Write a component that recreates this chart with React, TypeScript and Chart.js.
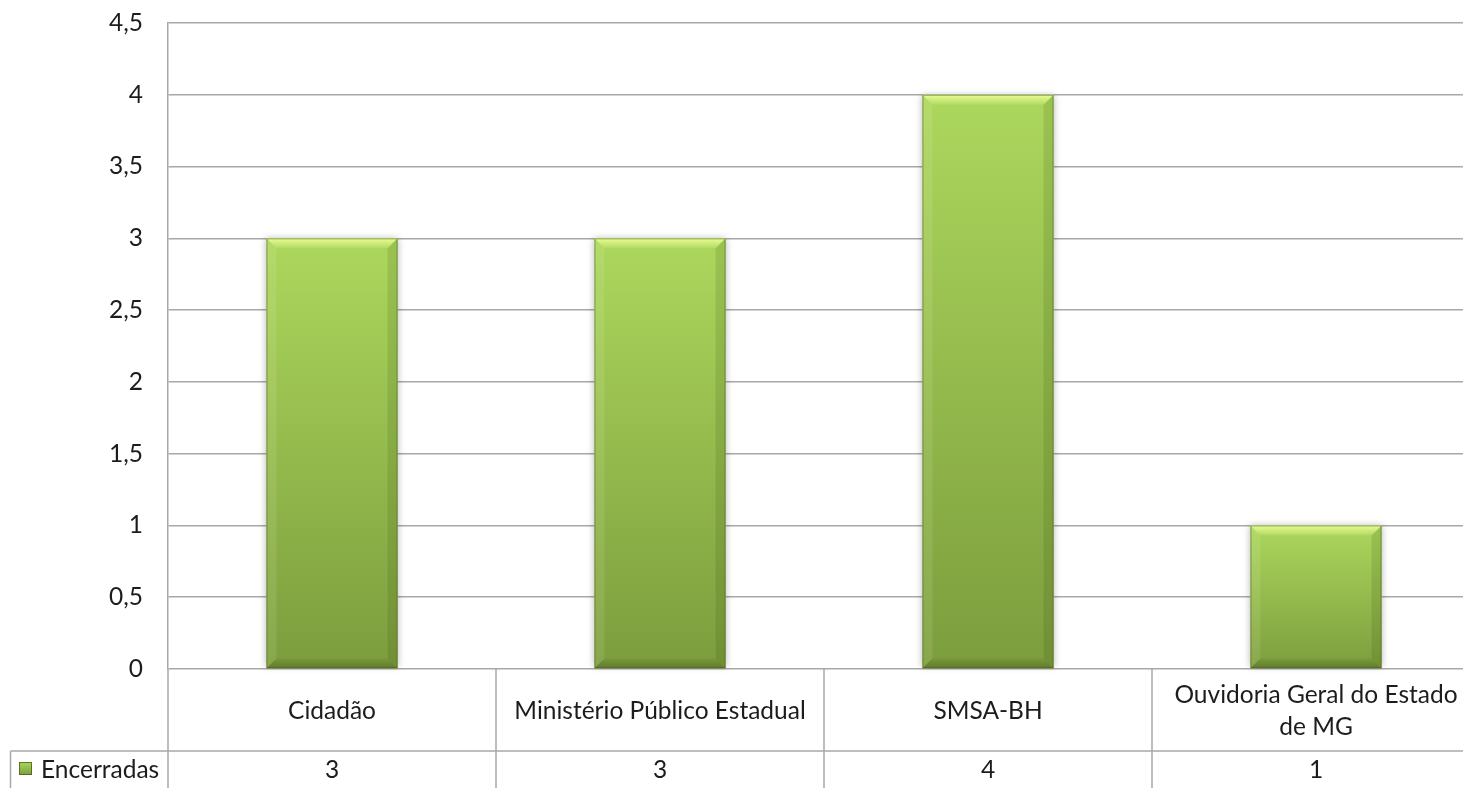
import React, { useEffect, useRef } from 'react';
import { Chart, registerables } from 'chart.js';

Chart.register(...registerables);

// ---- data ----
const categories: string[][] = [
  ['Cidadão'],
  ['Ministério Público Estadual'],
  ['SMSA-BH'],
  ['Ouvidoria Geral do Estado', 'de MG'],
];
const seriesName = 'Encerradas';
const encerradas: number[] = [3, 3, 4, 1];
const yMin = 0;
const yMax = 4.5;
const yStep = 0.5;

// ---- style ----
const FONT_FAMILY = 'Lato, "Open Sans", sans-serif';
const FONT_SIZE = 24.5;
const TEXT_COLOR = '#1c1c1c';
const GRID_COLOR = '#a8a8a8';
const BAR_TOP = '#acd75d';
const BAR_BOTTOM = '#7c9d3d';

const fmt = (v: number) => String(v).replace('.', ',');

function barGradient(ctx: CanvasRenderingContext2D, top: number, bottom: number) {
  const g = ctx.createLinearGradient(0, top, 0, bottom);
  g.addColorStop(0, BAR_TOP);
  g.addColorStop(1, BAR_BOTTOM);
  return g;
}

function poly(ctx: CanvasRenderingContext2D, pts: number[], fill: string | CanvasGradient) {
  ctx.beginPath();
  ctx.moveTo(pts[0], pts[1]);
  for (let i = 2; i < pts.length; i += 2) ctx.lineTo(pts[i], pts[i + 1]);
  ctx.closePath();
  ctx.fillStyle = fill;
  ctx.fill();
}

const shadowPlugin = {
  id: 'barShadow',
  beforeDatasetsDraw(chart: any) {
    const ctx: CanvasRenderingContext2D = chart.ctx;
    const meta = chart.getDatasetMeta(0);
    ctx.save();
    meta.data.forEach((bar: any) => {
      const { x, y, base, width } = bar.getProps(['x', 'y', 'base', 'width'], true);
      ctx.shadowColor = 'rgba(0,0,0,0.28)';
      ctx.shadowBlur = 7;
      ctx.shadowOffsetX = 0;
      ctx.shadowOffsetY = 0;
      ctx.fillStyle = '#ffffff';
      ctx.fillRect(x - width / 2, y, width, base - y - 1);
    });
    ctx.restore();
  },
};

const bevelPlugin = {
  id: 'barBevel',
  afterDatasetsDraw(chart: any) {
    const ctx: CanvasRenderingContext2D = chart.ctx;
    const meta = chart.getDatasetMeta(0);
    ctx.save();
    meta.data.forEach((bar: any) => {
      const { x, y, base, width } = bar.getProps(['x', 'y', 'base', 'width'], true);
      const l = x - width / 2;
      const r = x + width / 2;
      const t = y;
      const b = base;
      const bv = 10;
      const gt = ctx.createLinearGradient(0, t, 0, t + bv);
      gt.addColorStop(0, 'rgba(236,255,150,0.95)');
      gt.addColorStop(1, 'rgba(236,255,150,0.1)');
      poly(ctx, [l, t, r, t, r - bv, t + bv, l + bv, t + bv], gt);
      poly(ctx, [l, t, l + bv, t + bv, l + bv, b - bv, l, b], 'rgba(255,255,230,0.10)');
      poly(ctx, [r, t, r - bv, t + bv, r - bv, b - bv, r, b], 'rgba(30,50,0,0.12)');
      const gb = ctx.createLinearGradient(0, b - bv, 0, b);
      gb.addColorStop(0, 'rgba(40,60,10,0.05)');
      gb.addColorStop(1, 'rgba(40,60,10,0.35)');
      poly(ctx, [l, b, l + bv, b - bv, r - bv, b - bv, r, b], gb);
      ctx.strokeStyle = 'rgba(70,95,30,0.55)';
      ctx.lineWidth = 1;
      ctx.strokeRect(l + 0.5, t + 0.5, width - 1, b - t - 1);
    });
    ctx.restore();
  },
};

const dataTablePlugin = {
  id: 'dataTable',
  afterDraw(chart: any) {
    const ctx: CanvasRenderingContext2D = chart.ctx;
    const xs = chart.scales.x;
    const area = chart.chartArea;
    const H = chart.height;
    const labels: string[][] = chart.data.labels;
    const values: number[] = chart.data.datasets[0].data;
    const n = labels.length;
    const half = (xs.getPixelForValue(1) - xs.getPixelForValue(0)) / 2;
    const rowTop = area.bottom;
    const rowMid = area.bottom + 82;
    const legendLeft = 10.5;

    ctx.save();
    ctx.strokeStyle = GRID_COLOR;
    ctx.lineWidth = 1.5;
    for (let i = 0; i <= n; i++) {
      const bx = i < n ? xs.getPixelForValue(i) - half : xs.getPixelForValue(n - 1) + half;
      ctx.beginPath();
      ctx.moveTo(bx, rowTop);
      ctx.lineTo(bx, H);
      ctx.stroke();
    }
    ctx.beginPath();
    ctx.moveTo(legendLeft, rowMid);
    ctx.lineTo(xs.getPixelForValue(n - 1) + half, rowMid);
    ctx.stroke();
    ctx.beginPath();
    ctx.moveTo(legendLeft, rowMid);
    ctx.lineTo(legendLeft, H);
    ctx.stroke();

    ctx.fillStyle = TEXT_COLOR;
    ctx.font = `${FONT_SIZE}px ${FONT_FAMILY}`;
    ctx.textAlign = 'center';
    ctx.textBaseline = 'middle';
    const lh = 32;
    const catCenter = (rowTop + rowMid) / 2 + 1;
    labels.forEach((lines, i) => {
      const cx = xs.getPixelForValue(i);
      const y0 = catCenter - ((lines.length - 1) * lh) / 2;
      lines.forEach((ln, k) => ctx.fillText(ln, cx, y0 + k * lh));
      ctx.fillText(fmt(values[i]), cx, rowMid + 19);
    });

    // legend key
    const ky = rowMid + 11;
    const kx = 19;
    const ks = 13;
    ctx.fillStyle = barGradient(ctx, ky, ky + ks);
    ctx.fillRect(kx, ky, ks, ks);
    ctx.strokeStyle = 'rgba(70,95,30,0.8)';
    ctx.lineWidth = 1;
    ctx.strokeRect(kx + 0.5, ky + 0.5, ks - 1, ks - 1);
    ctx.fillStyle = TEXT_COLOR;
    ctx.textAlign = 'left';
    ctx.fillText(chart.data.datasets[0].label, 41, rowMid + 19);
    ctx.restore();
  },
};

export default function App() {
  const ref = useRef<HTMLCanvasElement | null>(null);

  useEffect(() => {
    if (!ref.current) return;
    const chart = new Chart(ref.current, {
      type: 'bar',
      data: {
        labels: categories as any,
        datasets: [
          {
            label: seriesName,
            data: encerradas,
            backgroundColor: (c: any) => {
              const ch = c.chart;
              const ys = ch.scales?.y;
              const v = typeof c.raw === 'number' ? c.raw : null;
              if (!ys || v === null) return '#97c04e';
              const top = ys.getPixelForValue(v);
              const bot = ys.getPixelForValue(0);
              if (!isFinite(top) || !isFinite(bot) || top === bot) return '#97c04e';
              return barGradient(ch.ctx, top, bot);
            },
            borderWidth: 0,
            barPercentage: 0.4,
            categoryPercentage: 1,
          },
        ],
      },
      options: {
        responsive: false,
        animation: false,
        layout: { padding: { top: 23, right: 2, left: 0, bottom: 0 } },
        plugins: {
          legend: { display: false },
          tooltip: { enabled: false },
          title: { display: false },
        },
        scales: {
          x: {
            offset: true,
            grid: { display: false },
            border: { display: false },
            ticks: { display: false },
            afterFit: (s: any) => {
              s.height = 119;
            },
          },
          y: {
            min: yMin,
            max: yMax,
            ticks: {
              stepSize: yStep,
              padding: 25,
              color: TEXT_COLOR,
              font: { family: FONT_FAMILY, size: FONT_SIZE },
              callback: (v: any) => fmt(Number(v)),
            },
            grid: { color: GRID_COLOR, lineWidth: 1.5, drawTicks: false },
            border: { color: GRID_COLOR, width: 1.5 },
            afterFit: (s: any) => {
              s.width = 168;
              s.paddingTop = 15;
              s.paddingBottom = 15;
            },
          },
        },
      },
      plugins: [shadowPlugin, bevelPlugin, dataTablePlugin],
    });
    return () => chart.destroy();
  }, []);

  return (
    <div
      style={{
        position: 'fixed',
        left: 0,
        top: 0,
        width: 1463,
        height: 788,
        overflow: 'hidden',
        background: '#ffffff',
      }}
    >
      <canvas ref={ref} width={1482} height={788} style={{ width: 1482, height: 788, display: 'block' }} />
    </div>
  );
}
